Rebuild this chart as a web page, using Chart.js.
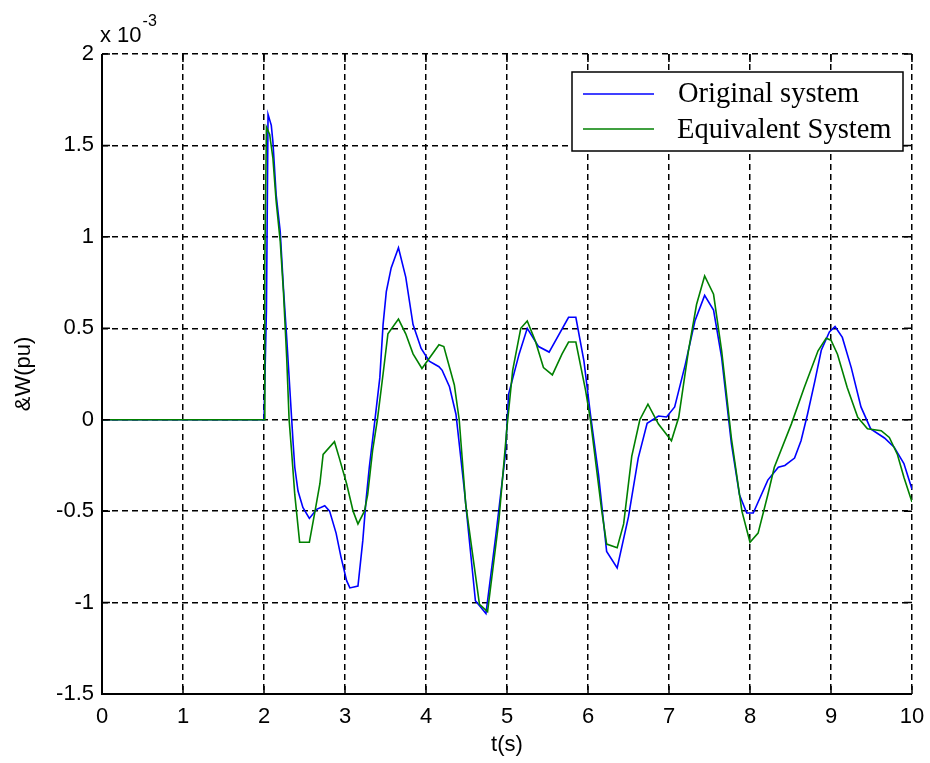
<!DOCTYPE html>
<html>
<head>
<meta charset="utf-8">
<script src="https://cdn.jsdelivr.net/npm/chart.js@4.4.1/dist/chart.umd.min.js"></script>
<style>
  html, body { margin: 0; padding: 0; background: #ffffff; }
  #wrap { width: 930px; height: 763px; }
</style>
</head>
<body>
<div id="wrap"><canvas id="c" width="930" height="763"></canvas></div>
<script>
// ---- data (values in units of 10^-3 pu) ----
const origT = [0, 2.0, 2.03, 2.05, 2.09, 2.11, 2.15, 2.20, 2.24, 2.28, 2.32, 2.36, 2.38, 2.42, 2.48, 2.56, 2.65, 2.75, 2.81, 2.89, 2.95, 3.02, 3.06, 3.16, 3.22, 3.26, 3.30, 3.37, 3.43, 3.47, 3.51, 3.57, 3.66, 3.75, 3.84, 3.94, 4.04, 4.16, 4.20, 4.29, 4.37, 4.47, 4.61, 4.74, 4.86, 4.98, 5.02, 5.15, 5.25, 5.39, 5.52, 5.76, 5.85, 5.95, 6.03, 6.13, 6.23, 6.36, 6.5, 6.62, 6.73, 6.87, 6.97, 7.07, 7.2, 7.32, 7.44, 7.55, 7.65, 7.77, 7.87, 7.96, 8.04, 8.22, 8.35, 8.43, 8.55, 8.63, 8.71, 8.8, 8.88, 8.98, 9.05, 9.14, 9.25, 9.37, 9.49, 9.66, 9.78, 9.9, 10.0];
const origV = [0, 0, 0.6, 1.67, 1.61, 1.52, 1.23, 1.03, 0.72, 0.45, 0.16, -0.13, -0.26, -0.39, -0.48, -0.54, -0.49, -0.47, -0.50, -0.62, -0.75, -0.88, -0.92, -0.91, -0.66, -0.44, -0.26, 0, 0.23, 0.52, 0.70, 0.83, 0.94, 0.78, 0.52, 0.39, 0.32, 0.29, 0.27, 0.18, 0.03, -0.37, -0.99, -1.06, -0.64, -0.19, 0.14, 0.36, 0.50, 0.40, 0.37, 0.56, 0.56, 0.32, 0.03, -0.30, -0.72, -0.81, -0.53, -0.21, -0.02, 0.02, 0.015, 0.07, 0.30, 0.54, 0.68, 0.60, 0.34, -0.13, -0.41, -0.51, -0.51, -0.33, -0.26, -0.25, -0.21, -0.115, 0.03, 0.21, 0.38, 0.48, 0.51, 0.45, 0.285, 0.07, -0.05, -0.10, -0.15, -0.24, -0.38];

const equivT = [0, 2.0, 2.01, 2.03, 2.07, 2.11, 2.15, 2.20, 2.24, 2.28, 2.31, 2.34, 2.38, 2.44, 2.56, 2.63, 2.69, 2.73, 2.87, 2.93, 3.02, 3.10, 3.16, 3.24, 3.28, 3.34, 3.40, 3.47, 3.53, 3.66, 3.75, 3.84, 3.95, 4.16, 4.22, 4.35, 4.41, 4.49, 4.66, 4.76, 4.9, 5.0, 5.07, 5.17, 5.25, 5.35, 5.45, 5.56, 5.68, 5.76, 5.85, 5.97, 6.03, 6.17, 6.23, 6.36, 6.44, 6.54, 6.64, 6.74, 6.87, 7.03, 7.12, 7.24, 7.34, 7.44, 7.55, 7.65, 7.77, 7.9, 8.0, 8.1, 8.22, 8.3, 8.51, 8.67, 8.84, 8.94, 9.0, 9.08, 9.2, 9.33, 9.45, 9.62, 9.72, 9.82, 9.9, 10.0];
const equivV = [0, 0, 0.85, 1.60, 1.56, 1.43, 1.195, 0.977, 0.70, 0.34, 0, -0.17, -0.41, -0.67, -0.67, -0.50, -0.35, -0.19, -0.12, -0.21, -0.35, -0.50, -0.57, -0.50, -0.41, -0.17, 0, 0.25, 0.47, 0.55, 0.47, 0.36, 0.28, 0.41, 0.40, 0.19, 0, -0.46, -1.01, -1.05, -0.55, -0.04, 0.27, 0.50, 0.54, 0.43, 0.285, 0.245, 0.36, 0.425, 0.425, 0.16, 0, -0.50, -0.68, -0.70, -0.57, -0.20, 0, 0.085, -0.024, -0.115, 0.013, 0.377, 0.63, 0.786, 0.686, 0.377, -0.10, -0.50, -0.67, -0.62, -0.41, -0.26, -0.024, 0.176, 0.377, 0.446, 0.435, 0.358, 0.176, 0.013, -0.05, -0.06, -0.097, -0.19, -0.315, -0.45];

const seriesNames = ['Original system', 'Equivalent System'];
const xTicks = [0, 1, 2, 3, 4, 5, 6, 7, 8, 9, 10];
const yTicks = [-1.5, -1, -0.5, 0, 0.5, 1, 1.5, 2];
const yExponent = '-3';
const xLabel = 't(s)';
const yLabel = '&W(pu)';

function pairs(ts, vs) {
  const n = Math.min(ts.length, vs.length);
  const out = [];
  for (let i = 0; i < n; i++) out.push({x: ts[i], y: vs[i]});
  return out;
}

const BLUE = '#0000ff';
const GREEN = '#008000';
const TICK_FONT = 'Liberation Sans, Arial, sans-serif';

// custom drawing: solid left/bottom axes, inward ticks, exponent label, legend
const decorPlugin = {
  id: 'decor',
  afterDatasetsDraw(chart) {
    const {ctx, chartArea: a, scales} = chart;
    const xs = scales.x, ys = scales.y;
    ctx.save();
    ctx.strokeStyle = '#000';
    ctx.setLineDash([]);
    ctx.lineWidth = 1.5;
    const tl = 8;
    // inward ticks
    ctx.beginPath();
    xTicks.forEach(v => {
      const px = xs.getPixelForValue(v);
      ctx.moveTo(px, a.bottom); ctx.lineTo(px, a.bottom - tl);
      ctx.moveTo(px, a.top); ctx.lineTo(px, a.top + tl);
    });
    yTicks.forEach(v => {
      const py = ys.getPixelForValue(v);
      ctx.moveTo(a.left, py); ctx.lineTo(a.left + tl, py);
      ctx.moveTo(a.right, py); ctx.lineTo(a.right - tl, py);
    });
    ctx.stroke();
    // solid left and bottom axes
    ctx.lineWidth = 2;
    ctx.beginPath();
    ctx.moveTo(a.left, a.top);
    ctx.lineTo(a.left, a.bottom);
    ctx.lineTo(a.right, a.bottom);
    ctx.stroke();

    // exponent label
    ctx.fillStyle = '#000';
    ctx.textBaseline = 'alphabetic';
    ctx.textAlign = 'left';
    ctx.font = '22px ' + TICK_FONT;
    ctx.fillText('x 10', 100, 42);
    const w = ctx.measureText('x 10').width;
    ctx.font = '16px ' + TICK_FONT;
    ctx.fillText(yExponent, 100 + w + 1, 26);

    // legend
    const lx = 572, ly = 72, lw = 331, lh = 79;
    ctx.fillStyle = '#fff';
    ctx.fillRect(lx, ly, lw, lh);
    ctx.lineWidth = 1.5;
    ctx.strokeStyle = '#000';
    ctx.strokeRect(lx, ly, lw, lh);
    const rows = [{c: BLUE, y: 94, by: 102}, {c: GREEN, y: 129, by: 137.5}];
    ctx.font = '28.5px Liberation Serif, Times New Roman, serif';
    rows.forEach((r, i) => {
      ctx.strokeStyle = r.c;
      ctx.lineWidth = 1.5;
      ctx.beginPath();
      ctx.moveTo(583, r.y); ctx.lineTo(654, r.y);
      ctx.stroke();
      ctx.fillStyle = '#000';
      ctx.fillText(seriesNames[i], i === 0 ? 678 : 677, r.by);
    });
    ctx.restore();
  }
};

new Chart(document.getElementById('c'), {
  type: 'line',
  data: {
    datasets: [
      {label: seriesNames[0], data: pairs(origT, origV), borderColor: BLUE, borderWidth: 1.6, pointRadius: 0, tension: 0, fill: false, order: 2},
      {label: seriesNames[1], data: pairs(equivT, equivV), borderColor: GREEN, borderWidth: 1.6, pointRadius: 0, tension: 0, fill: false, order: 1}
    ]
  },
  options: {
    responsive: false,
    animation: false,
    devicePixelRatio: 1,
    layout: {padding: {top: 54, right: 18, left: 0, bottom: 0}},
    plugins: {legend: {display: false}, tooltip: {enabled: false}, title: {display: false}},
    scales: {
      x: {
        type: 'linear',
        min: 0, max: 10,
        afterBuildTicks: s => { s.ticks = xTicks.map(v => ({value: v})); },
        afterFit: s => { s.height = 69; s.paddingLeft = 0; s.paddingRight = 0; },
        ticks: {color: '#000', font: {family: TICK_FONT, size: 22}, padding: 10, maxRotation: 0, autoSkip: false},
        grid: {color: '#000', lineWidth: 1.5, drawTicks: false},
        border: {display: false, dash: [6, 4]},
        title: {display: true, text: xLabel, color: '#000', font: {family: TICK_FONT, size: 22}, padding: {top: 0, bottom: 5}}
      },
      y: {
        type: 'linear',
        min: -1.5, max: 2,
        afterBuildTicks: s => { s.ticks = yTicks.map(v => ({value: v})); },
        afterFit: s => { s.width = 102; s.paddingTop = 0; s.paddingBottom = 0; },
        ticks: {color: '#000', font: {family: TICK_FONT, size: 22}, padding: 8, autoSkip: false,
                callback: v => String(v)},
        grid: {color: '#000', lineWidth: 1.5, drawTicks: false},
        border: {display: false, dash: [6, 4]},
        title: {display: true, text: yLabel, color: '#000', font: {family: TICK_FONT, size: 22}, padding: {top: 11, bottom: 0}}
      }
    }
  },
  plugins: [decorPlugin]
});
</script>
</body>
</html>
